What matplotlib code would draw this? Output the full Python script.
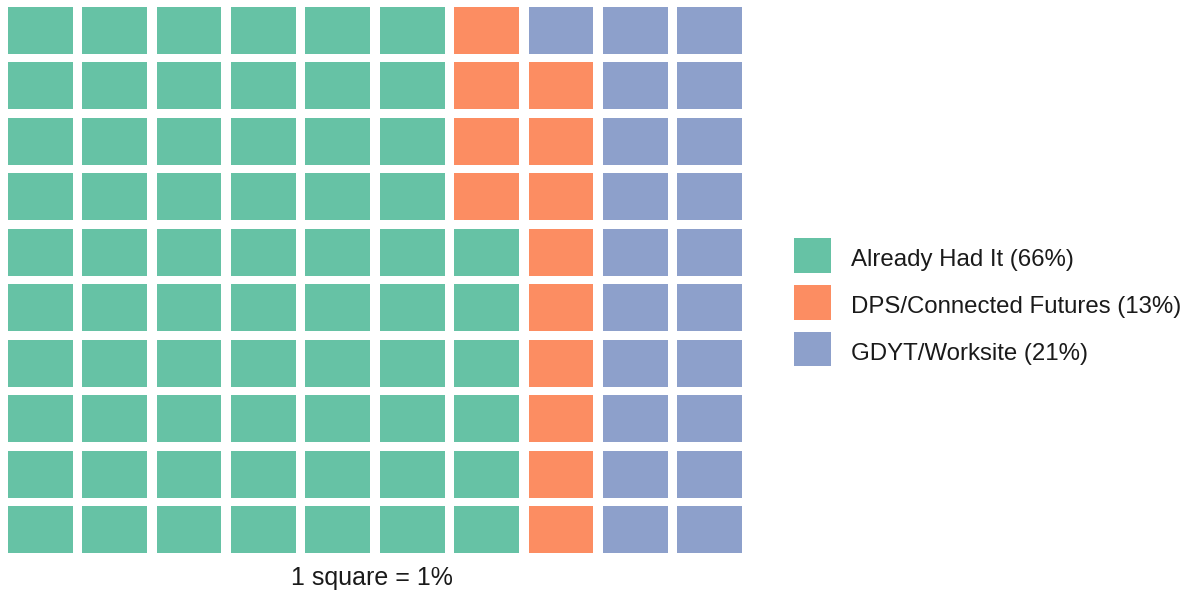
import numpy as np
import matplotlib.pyplot as plt
from matplotlib.patches import Rectangle

plt.rcParams['font.family'] = ['Liberation Sans', 'DejaVu Sans']

# waffle data: 100 squares, 1 square = 1%
categories = ['Already Had It', 'DPS/Connected Futures', 'GDYT/Worksite']
percents = [66, 13, 21]
colors = ['#66c2a5', '#fc8d62', '#8da0cb']
n_rows = 10
n_cols = 10

fig = plt.figure(figsize=(11.98, 5.97), dpi=100)
W, H = 1198, 597
ax = fig.add_axes([8 / W, (H - 553) / H, (742 - 8) / W, (553 - 7) / H])

gx = 0.13
gy = 0.16

# fill column by column, bottom to top
cell_cat = np.repeat(np.arange(len(percents)), percents)
for k, c in enumerate(cell_cat):
    col = k // n_rows
    row = k % n_rows
    ax.add_patch(Rectangle((col, row), 1 - gx, 1 - gy, facecolor=colors[c],
                           edgecolor='none'))

ax.set_xlim(0, n_cols - gx)
ax.set_ylim(0, n_rows - gy)
ax.axis('off')

fig.text(372 / W, 1 - 578 / H, '1 square = 1%', ha='center', va='center',
         fontsize=18, color='#1a1a1a')

# legend, laid out in pixel units of its own axes
lax = fig.add_axes([794 / W, 1 - 366 / H, (1198 - 794) / W, (366 - 238) / H])
lax.set_xlim(0, 1198 - 794)
lax.set_ylim(366, 238)
lax.axis('off')
for i, (cat, p, col) in enumerate(zip(categories, percents, colors)):
    top = 238 + i * 47
    lax.add_patch(Rectangle((0, top), 37, 35, facecolor=col, edgecolor='none'))
    lax.text(57, top + 22, '%s (%d%%)' % (cat, p), ha='left', va='center',
             fontsize=17.3, color='#1a1a1a')

fig.savefig('out.png', dpi=100)
